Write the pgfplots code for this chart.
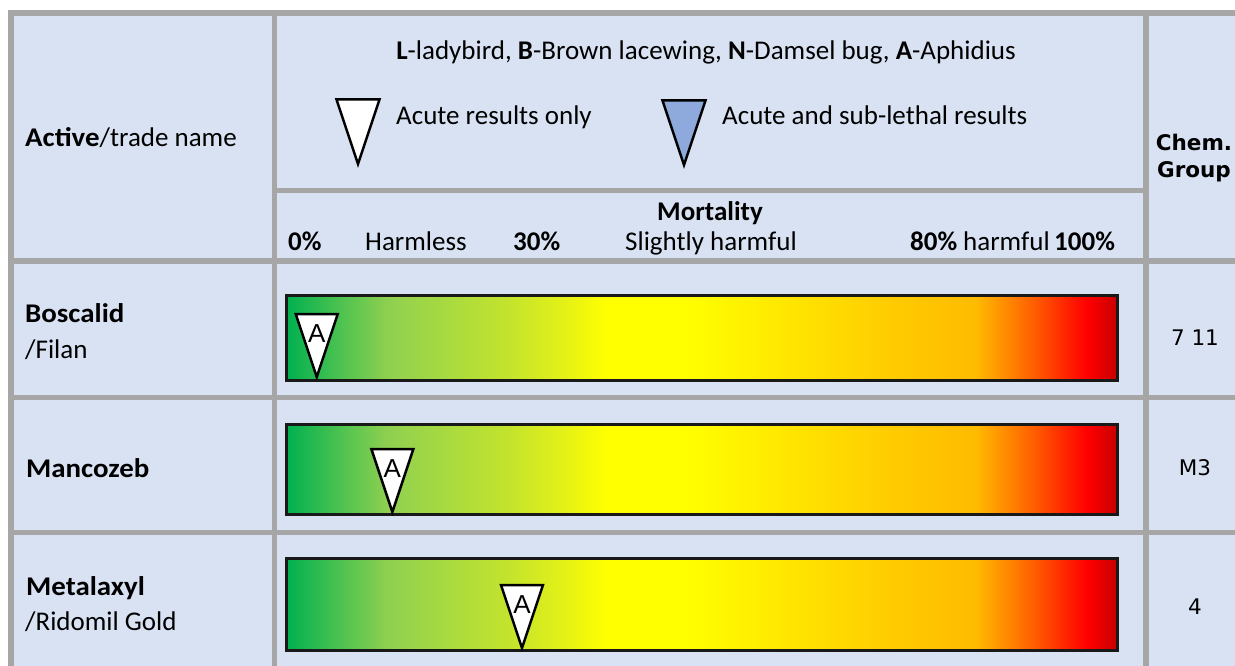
\documentclass[border=0pt]{standalone}
\usepackage{graphicx}
\usepackage{pgfplots}
\pgfplotsset{compat=1.18}
\usepackage{fontspec}
\setmainfont{Carlito}
\newfontfamily\dejavu{DejaVu Sans}
\newfontfamily\arialf{Liberation Sans}
\definecolor{bg}{HTML}{D9E2F3}
\definecolor{gridc}{HTML}{A6A6A6}
\definecolor{subl}{HTML}{8EA9DB}
\definecolor{m00}{HTML}{00B050}
\definecolor{m07}{HTML}{55C450}
\definecolor{m12}{HTML}{90D050}
\definecolor{m19}{HTML}{A8DA40}
\definecolor{m27}{HTML}{C4E42C}
\definecolor{m33}{HTML}{E2F018}
\definecolor{m39}{HTML}{FFFF00}
\definecolor{m61}{HTML}{FFE600}
\definecolor{m73}{HTML}{FFCC00}
\definecolor{m83}{HTML}{FFBB00}
\definecolor{m87}{HTML}{FF8800}
\definecolor{m91}{HTML}{FF5500}
\definecolor{m94}{HTML}{FF2200}
\definecolor{m96}{HTML}{FF0000}
\definecolor{m100}{HTML}{C80000}
\pgfdeclarehorizontalshading{mortal}{100bp}{%
color(0bp)=(m00); color(25bp)=(m00); color(28.6bp)=(m07); color(31.2bp)=(m12);
color(34.7bp)=(m19); color(38.5bp)=(m27); color(41.5bp)=(m33); color(44.3bp)=(m39);
color(49bp)=(m39); color(55.3bp)=(m61); color(61.3bp)=(m73); color(66.5bp)=(m83);
color(68.4bp)=(m87); color(70.3bp)=(m91); color(72bp)=(m94); color(73.2bp)=(m96);
color(75bp)=(m100); color(100bp)=(m100)}
\pgfdeclareplotmark{tridown}{%
  \pgfpathmoveto{\pgfqpoint{0pt}{0pt}}%
  \pgfpathlineto{\pgfqpoint{-\pgfplotmarksize}{3\pgfplotmarksize}}%
  \pgfpathlineto{\pgfqpoint{\pgfplotmarksize}{3\pgfplotmarksize}}%
  \pgfpathclose
  \pgfusepathqfillstroke}
\newcommand{\bigf}{\fontsize{27}{32}\selectfont}
\newcommand{\rf}{\dejavu\fontsize{21.5}{25}\selectfont}
\newcommand{\wb}[1]{\scalebox{1.07}[1]{\textbf{#1}}}
\begin{document}
\begin{tikzpicture}
\begin{axis}[at={(0pt,0pt)}, anchor=south west, scale only axis,
  width=1235pt, height=666pt, xmin=0, xmax=1235, ymin=0, ymax=666,
  y dir=reverse, hide axis, clip=false]
  % table background and rules
  \fill[bg] (axis cs:8,10) rectangle (axis cs:1240,670);
  \begin{scope}[gridc, line cap=butt]
  \draw[line width=6pt] (axis cs:8,13) -- (axis cs:1240,13);
  \draw[line width=6pt] (axis cs:11,10) -- (axis cs:11,670);
  \draw[line width=5.5pt] (axis cs:274.5,10) -- (axis cs:274.5,670);
  \draw[line width=6pt] (axis cs:1146,10) -- (axis cs:1146,670);
  \draw[line width=5.5pt] (axis cs:274.5,190.5) -- (axis cs:1146,190.5);
  \draw[line width=6pt] (axis cs:8,261) -- (axis cs:1240,261);
  \draw[line width=5.5pt] (axis cs:8,397.5) -- (axis cs:1240,397.5);
  \draw[line width=5.5pt] (axis cs:8,532.5) -- (axis cs:1240,532.5);
  \end{scope}
  % legend symbols
  \addplot[only marks, mark=tridown, mark size=21.5pt,
    mark options={fill=white, draw=black, line width=2.5pt, line join=miter}]
    coordinates {(358,164)};
  \addplot[only marks, mark=tridown, mark size=21.5pt,
    mark options={fill=subl, draw=black, line width=2.5pt, line join=miter}]
    coordinates {(684,165)};
  % texts
  \node[anchor=base west, inner sep=0pt, font=\bigf] at (axis cs:25,147) {\wb{Active}/trade name};
  \node[anchor=base, inner sep=0pt, font=\bigf] at (axis cs:706,60) {\textbf{L}-ladybird, \textbf{B}-Brown lacewing, \textbf{N}-Damsel bug, \textbf{A}-Aphidius};
  \node[anchor=base west, inner sep=0pt, font=\bigf] at (axis cs:396,125) {Acute results only};
  \node[anchor=base west, inner sep=0pt, font=\bigf] at (axis cs:722,125) {Acute and sub-lethal results};
  \node[anchor=base, inner sep=0pt, font=\bigf] at (axis cs:710,220) {\textbf{Mortality}};
  \node[anchor=base west, inner sep=0pt, font=\bigf] at (axis cs:288,251) {\textbf{0\%}};
  \node[anchor=base west, inner sep=0pt, font=\bigf] at (axis cs:365,251) {Harmless};
  \node[anchor=base west, inner sep=0pt, font=\bigf] at (axis cs:513,251) {\textbf{30\%}};
  \node[anchor=base west, inner sep=0pt, font=\bigf] at (axis cs:625,251) {Slightly harmful};
  \node[anchor=base west, inner sep=0pt, font=\bigf] at (axis cs:910,251) {\textbf{80\%}};
  \node[anchor=base west, inner sep=0pt, font=\bigf] at (axis cs:963,251) {harmful};
  \node[anchor=base west, inner sep=0pt, font=\bigf] at (axis cs:1054,251) {\textbf{100\%}};
  \node[anchor=base west, inner sep=0pt, font=\bigf] at (axis cs:25,322) {\wb{Boscalid}};
  \node[anchor=base west, inner sep=0pt, font=\bigf] at (axis cs:25,358) {/Filan};
  \node[anchor=base west, inner sep=0pt, font=\bigf] at (axis cs:26,477) {\wb{Mancozeb}};
  \node[anchor=base west, inner sep=0pt, font=\bigf] at (axis cs:26,595) {\wb{Metalaxyl}};
  \node[anchor=base west, inner sep=0pt, font=\bigf] at (axis cs:25,630) {/Ridomil Gold};
  \node[anchor=base, inner sep=0pt, font=\rf] at (axis cs:1194,151) {\textbf{Chem.}};
  \node[anchor=base, inner sep=0pt, font=\rf] at (axis cs:1194,178) {\textbf{Group}};
  \node[anchor=base, inner sep=0pt, font=\rf] at (axis cs:1195,345) {7 11};
  \node[anchor=base, inner sep=0pt, font=\rf] at (axis cs:1195,475) {M3};
  \node[anchor=base, inner sep=0pt, font=\rf] at (axis cs:1195,614) {4};
\end{axis}
\begin{axis}[at={(286pt,0pt)}, anchor=south west, scale only axis,
  width=831pt, height=666pt, xmin=0, xmax=100, ymin=0, ymax=666,
  y dir=reverse, hide axis, clip=false]
  % mortality scale bars, 0-100%
  \addplot[draw=black!90, line width=3pt, line join=miter, line cap=rect, shade, shading=mortal]
    coordinates {(0,295) (100,295) (100,380) (0,380) (0,295)};
  \addplot[draw=black!90, line width=3pt, line join=miter, line cap=rect, shade, shading=mortal]
    coordinates {(0,424) (100,424) (100,514) (0,514) (0,424)};
  \addplot[draw=black!90, line width=3pt, line join=miter, line cap=rect, shade, shading=mortal]
    coordinates {(0,558) (100,558) (100,650) (0,650) (0,558)};
  % results: mortality (%) for Aphidius (A), acute results only
  \addplot[only marks, mark=tridown, mark size=21pt,
    mark options={fill=white, draw=black, line width=2.5pt, line join=miter},
    point meta=explicit symbolic,
    nodes near coords={\arialf\fontsize{26}{26}\selectfont\pgfplotspointmeta},
    nodes near coords style={anchor=center, yshift=43pt, inner sep=0pt}]
    coordinates {(3.7,377)[A] (12.8,512)[A] (28.4,648)[A]};
\end{axis}
\pgfresetboundingbox
\path (0pt,0pt) rectangle (1235pt,666pt);
\end{tikzpicture}
\end{document}
